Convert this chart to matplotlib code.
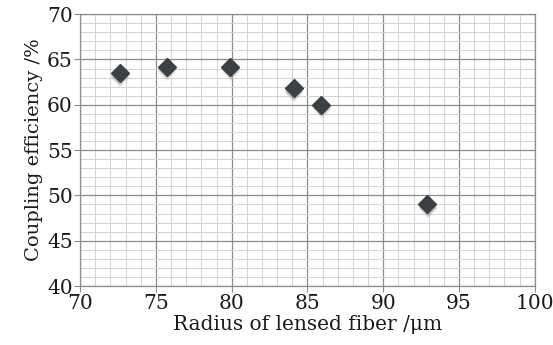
import matplotlib
matplotlib.use("Agg")
import matplotlib.pyplot as plt
import matplotlib.transforms as mtransforms
from matplotlib.ticker import MultipleLocator

# data
radius = [72.6, 75.7, 79.9, 84.1, 85.9, 92.9]
efficiency = [63.5, 64.2, 64.2, 61.8, 60.0, 49.0]

plt.rcParams["font.family"] = ["DejaVu Serif"]

fig = plt.figure(figsize=(5.53, 3.45), dpi=100)
ax = fig.add_axes([0.145, 0.171, 0.822, 0.788])

ax.set_xlim(70, 100)
ax.set_ylim(40, 70)
ax.xaxis.set_major_locator(MultipleLocator(5))
ax.xaxis.set_minor_locator(MultipleLocator(1))
ax.yaxis.set_major_locator(MultipleLocator(5))
ax.yaxis.set_minor_locator(MultipleLocator(1))

ax.grid(which="minor", color="#d2d2d2", linewidth=0.7)
ax.grid(which="major", color="#8c8c8c", linewidth=0.9)
ax.set_axisbelow(True)

for s in ax.spines.values():
    s.set_color("#8c8c8c")
    s.set_linewidth(0.9)

ax.tick_params(which="major", direction="out", length=4, color="#8c8c8c",
               labelsize=14.5, pad=1.5, labelcolor="#1a1a1a")
ax.tick_params(which="minor", length=0)

# soft shadow under the markers
for dy, a in [(-1.5, 0.35), (-2.5, 0.3), (-3.5, 0.2)]:
    shadow = mtransforms.offset_copy(ax.transData, fig=fig, x=0.3, y=dy, units="points")
    ax.plot(radius, efficiency, linestyle="none", marker="D", markersize=9,
            color="#9a9a9a", markeredgewidth=0, alpha=a, transform=shadow, zorder=3)
ax.plot(radius, efficiency, linestyle="none", marker="D", markersize=9,
        color="#3c4044", markeredgecolor="#3c4044", zorder=4)

ax.set_xlabel("Radius of lensed fiber /μm", fontsize=14.5, labelpad=2, color="#1a1a1a")
ax.set_ylabel("Coupling efficiency /%", fontsize=14, labelpad=3, color="#1a1a1a")

fig.savefig("out.png", dpi=100, facecolor="white")
